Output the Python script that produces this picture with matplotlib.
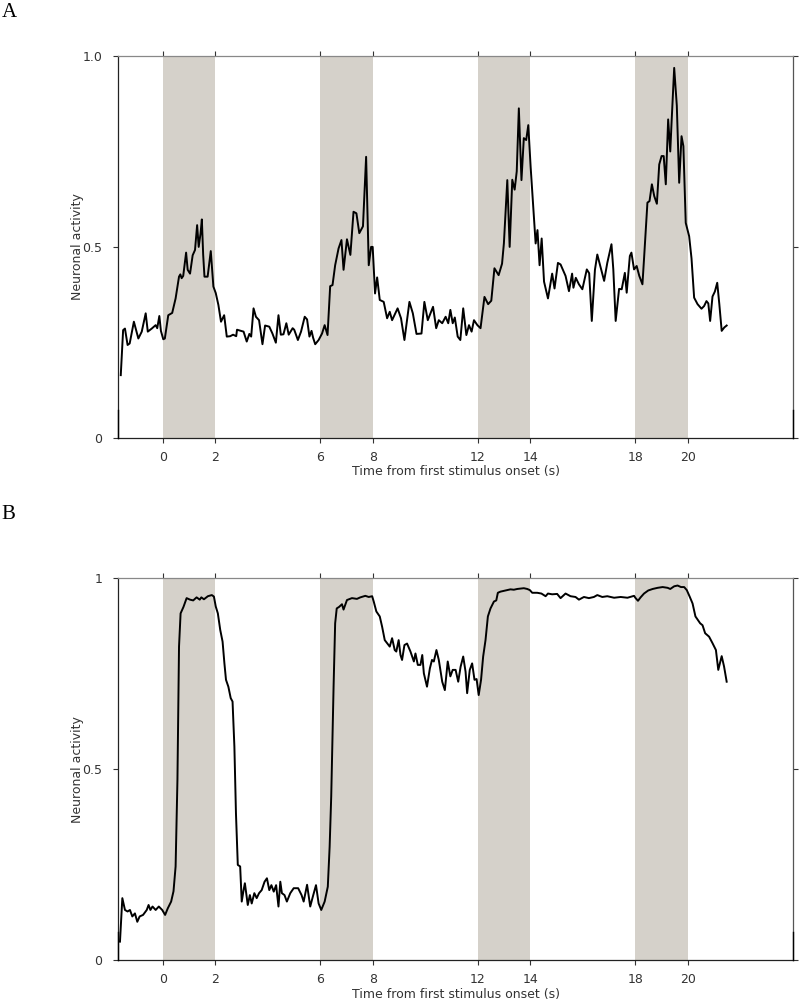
import numpy as np
import matplotlib
matplotlib.use("Agg")
import matplotlib.pyplot as plt

# stimulus windows (s)
stim_on = [0, 6, 12, 18]
stim_dur = 2
xtick_vals = [0, 2, 6, 8, 12, 14, 18, 20]

# panel A trace
t_a = [-1.61, -1.52, -1.45, -1.35, -1.27, -1.11, -0.94, -0.81, -0.66, -0.58,
       -0.43, -0.28, -0.22, -0.14, -0.08, 0.01, 0.07, 0.20, 0.35, 0.48,
       0.61, 0.66, 0.71, 0.77, 0.88, 0.94, 1.03, 1.13, 1.22, 1.30,
       1.36, 1.43, 1.48, 1.53, 1.58, 1.70, 1.82, 1.92, 2.01, 2.11,
       2.21, 2.33, 2.43, 2.56, 2.67, 2.79, 2.82, 3.07, 3.19, 3.29,
       3.36, 3.45, 3.54, 3.66, 3.79, 3.89, 4.05, 4.17, 4.30, 4.40,
       4.49, 4.59, 4.70, 4.79, 4.94, 5.00, 5.14, 5.26, 5.40, 5.49,
       5.58, 5.66, 5.72, 5.80, 5.93, 6.06, 6.16, 6.27, 6.37, 6.46,
       6.56, 6.69, 6.80, 6.88, 7.01, 7.14, 7.26, 7.37, 7.48, 7.62,
       7.74, 7.84, 7.93, 7.99, 8.08, 8.16, 8.26, 8.41, 8.54, 8.64,
       8.73, 8.94, 9.07, 9.20, 9.39, 9.52, 9.66, 9.85, 9.96, 10.09,
       10.29, 10.41, 10.51, 10.64, 10.77, 10.87, 10.95, 11.04, 11.12, 11.23,
       11.33, 11.44, 11.56, 11.66, 11.76, 11.85, 11.98, 12.10, 12.25, 12.39,
       12.51, 12.63, 12.79, 12.92, 12.99, 13.12, 13.21, 13.31, 13.40, 13.48,
       13.56, 13.66, 13.75, 13.84, 13.92, 14.01, 14.11, 14.20, 14.27, 14.35,
       14.43, 14.52, 14.67, 14.83, 14.92, 15.05, 15.15, 15.34, 15.47, 15.59,
       15.64, 15.73, 15.85, 15.98, 16.15, 16.24, 16.34, 16.46, 16.55, 16.70,
       16.81, 16.93, 17.09, 17.16, 17.25, 17.38, 17.48, 17.60, 17.67, 17.79,
       17.85, 17.95, 18.05, 18.15, 18.27, 18.33, 18.46, 18.54, 18.63, 18.72,
       18.82, 18.91, 19.00, 19.08, 19.16, 19.25, 19.33, 19.38, 19.48, 19.58,
       19.67, 19.76, 19.83, 19.92, 20.05, 20.14, 20.24, 20.37, 20.52, 20.62,
       20.71, 20.78, 20.85, 20.94, 21.03, 21.12, 21.20, 21.29, 21.39, 21.48]
y_a = [0.164, 0.282, 0.286, 0.243, 0.247, 0.304, 0.260, 0.278, 0.326, 0.278,
       0.286, 0.295, 0.287, 0.319, 0.280, 0.258, 0.260, 0.321, 0.327, 0.365,
       0.422, 0.428, 0.418, 0.424, 0.485, 0.440, 0.430, 0.478, 0.492, 0.557,
       0.500, 0.535, 0.572, 0.480, 0.422, 0.422, 0.489, 0.396, 0.379, 0.348,
       0.304, 0.321, 0.265, 0.266, 0.270, 0.266, 0.283, 0.278, 0.252, 0.272,
       0.265, 0.339, 0.317, 0.308, 0.245, 0.294, 0.291, 0.273, 0.249, 0.321,
       0.270, 0.271, 0.300, 0.270, 0.287, 0.283, 0.256, 0.278, 0.317, 0.310,
       0.265, 0.280, 0.262, 0.245, 0.256, 0.273, 0.295, 0.269, 0.397, 0.400,
       0.452, 0.496, 0.518, 0.440, 0.520, 0.479, 0.592, 0.588, 0.536, 0.554,
       0.736, 0.452, 0.500, 0.500, 0.378, 0.420, 0.361, 0.356, 0.313, 0.330,
       0.308, 0.339, 0.313, 0.256, 0.356, 0.326, 0.272, 0.273, 0.356, 0.308,
       0.343, 0.287, 0.308, 0.300, 0.317, 0.300, 0.335, 0.300, 0.315, 0.265,
       0.256, 0.339, 0.269, 0.295, 0.278, 0.308, 0.295, 0.287, 0.369, 0.350,
       0.359, 0.444, 0.426, 0.456, 0.509, 0.675, 0.500, 0.676, 0.650, 0.698,
       0.863, 0.675, 0.785, 0.780, 0.819, 0.709, 0.605, 0.509, 0.544, 0.452,
       0.522, 0.409, 0.365, 0.430, 0.391, 0.458, 0.454, 0.424, 0.384, 0.430,
       0.393, 0.419, 0.402, 0.389, 0.441, 0.431, 0.306, 0.440, 0.480, 0.440,
       0.411, 0.458, 0.507, 0.441, 0.306, 0.390, 0.389, 0.432, 0.380, 0.476,
       0.485, 0.441, 0.450, 0.424, 0.402, 0.468, 0.616, 0.620, 0.664, 0.633,
       0.613, 0.716, 0.738, 0.738, 0.664, 0.834, 0.750, 0.826, 0.969, 0.870,
       0.668, 0.790, 0.764, 0.563, 0.528, 0.470, 0.367, 0.350, 0.338, 0.345,
       0.358, 0.352, 0.306, 0.370, 0.383, 0.406, 0.350, 0.280, 0.289, 0.294]

# panel B trace
t_b = [-1.64, -1.55, -1.45, -1.35, -1.26, -1.17, -1.07, -0.98, -0.89, -0.76,
       -0.62, -0.55, -0.48, -0.40, -0.28, -0.16, -0.03, 0.08, 0.18, 0.31,
       0.40, 0.48, 0.55, 0.61, 0.67, 0.78, 0.90, 1.03, 1.15, 1.28,
       1.40, 1.46, 1.56, 1.71, 1.86, 1.94, 2.01, 2.09, 2.18, 2.27,
       2.34, 2.40, 2.49, 2.58, 2.65, 2.72, 2.78, 2.85, 2.94, 3.00,
       3.07, 3.12, 3.23, 3.31, 3.38, 3.48, 3.57, 3.66, 3.76, 3.87,
       3.96, 4.05, 4.13, 4.22, 4.31, 4.40, 4.47, 4.53, 4.63, 4.72,
       4.85, 4.98, 5.15, 5.28, 5.36, 5.49, 5.61, 5.71, 5.83, 5.93,
       6.03, 6.16, 6.28, 6.35, 6.41, 6.50, 6.56, 6.62, 6.71, 6.82,
       6.88, 7.01, 7.20, 7.39, 7.52, 7.71, 7.84, 7.97, 8.03, 8.13,
       8.26, 8.35, 8.45, 8.54, 8.64, 8.73, 8.83, 8.89, 8.98, 9.05,
       9.11, 9.20, 9.30, 9.43, 9.56, 9.62, 9.71, 9.81, 9.88, 9.94,
       10.06, 10.17, 10.25, 10.32, 10.42, 10.51, 10.64, 10.74, 10.85, 10.95,
       11.04, 11.15, 11.25, 11.34, 11.44, 11.53, 11.59, 11.69, 11.78, 11.87,
       11.95, 12.03, 12.12, 12.20, 12.29, 12.38, 12.48, 12.61, 12.70, 12.76,
       12.86, 13.05, 13.24, 13.37, 13.50, 13.63, 13.75, 13.88, 13.98, 14.07,
       14.26, 14.42, 14.58, 14.67, 14.83, 15.02, 15.15, 15.34, 15.53, 15.72,
       15.85, 16.04, 16.23, 16.42, 16.55, 16.74, 16.93, 17.19, 17.44, 17.70,
       17.95, 18.01, 18.10, 18.20, 18.33, 18.49, 18.66, 18.85, 19.04, 19.23,
       19.33, 19.48, 19.61, 19.74, 19.86, 19.96, 20.07, 20.18, 20.29, 20.38,
       20.47, 20.56, 20.66, 20.81, 20.94, 21.07, 21.16, 21.29, 21.38, 21.48]
y_b = [0.048, 0.162, 0.131, 0.127, 0.131, 0.114, 0.122, 0.100, 0.114, 0.118,
       0.131, 0.144, 0.131, 0.140, 0.131, 0.140, 0.131, 0.118, 0.135, 0.153,
       0.180, 0.245, 0.472, 0.821, 0.908, 0.925, 0.948, 0.944, 0.942, 0.950,
       0.944, 0.950, 0.945, 0.953, 0.956, 0.952, 0.926, 0.908, 0.865, 0.834,
       0.777, 0.734, 0.716, 0.686, 0.677, 0.559, 0.384, 0.249, 0.245, 0.153,
       0.183, 0.201, 0.144, 0.170, 0.148, 0.175, 0.162, 0.175, 0.183, 0.205,
       0.214, 0.183, 0.196, 0.179, 0.196, 0.140, 0.205, 0.175, 0.170, 0.153,
       0.175, 0.188, 0.188, 0.170, 0.153, 0.197, 0.140, 0.166, 0.196, 0.148,
       0.131, 0.153, 0.192, 0.297, 0.428, 0.716, 0.882, 0.921, 0.925, 0.932,
       0.918, 0.943, 0.948, 0.946, 0.950, 0.954, 0.951, 0.953, 0.939, 0.913,
       0.900, 0.873, 0.838, 0.830, 0.821, 0.843, 0.812, 0.808, 0.838, 0.799,
       0.786, 0.825, 0.829, 0.808, 0.782, 0.803, 0.773, 0.773, 0.799, 0.751,
       0.716, 0.764, 0.786, 0.782, 0.812, 0.786, 0.729, 0.707, 0.782, 0.743,
       0.760, 0.760, 0.729, 0.768, 0.795, 0.755, 0.699, 0.760, 0.777, 0.734,
       0.736, 0.694, 0.734, 0.795, 0.838, 0.900, 0.921, 0.939, 0.942, 0.962,
       0.965, 0.968, 0.971, 0.970, 0.972, 0.973, 0.974, 0.972, 0.969, 0.962,
       0.962, 0.960, 0.953, 0.960, 0.958, 0.959, 0.948, 0.960, 0.953, 0.951,
       0.944, 0.951, 0.948, 0.951, 0.956, 0.951, 0.953, 0.949, 0.951, 0.949,
       0.954, 0.948, 0.941, 0.950, 0.960, 0.968, 0.972, 0.975, 0.977, 0.975,
       0.972, 0.979, 0.981, 0.977, 0.977, 0.969, 0.952, 0.934, 0.900, 0.891,
       0.882, 0.877, 0.856, 0.847, 0.830, 0.812, 0.760, 0.796, 0.769, 0.729]

shade = '#d5d1ca'

fig = plt.figure(figsize=(8, 10.01), dpi=100)
ax_a = fig.add_axes([0.148, 0.5627, 0.843, 0.3813])
ax_b = fig.add_axes([0.148, 0.041, 0.843, 0.3813])


def draw_panel(ax, t, y, ylabels):
    for s in stim_on:
        ax.axvspan(s, s + stim_dur, color=shade, lw=0, zorder=0)
    ax.plot(t, y, color='black', lw=1.4, zorder=3)
    ax.set_xlim(-1.7, 24.0)
    ax.set_ylim(0, 1)
    ax.set_xticks(xtick_vals)
    ax.set_xticklabels([str(v) for v in xtick_vals])
    ax.set_yticks([0, 0.5, 1])
    ax.set_yticklabels(ylabels)
    ax.tick_params(direction='out', length=3.6, width=0.8, colors='#333333',
                   labelsize=9, top=True, right=True)
    ax.tick_params(axis='x', pad=6)
    ax.tick_params(axis='y', pad=8)
    ax.spines['left'].set_color('#222222')
    ax.spines['bottom'].set_color('#222222')
    ax.spines['top'].set_color('#888888')
    ax.spines['right'].set_color('#555555')
    for sp in ax.spines.values():
        sp.set_linewidth(0.9)
    # darker bits at the foot of the side spines
    for xa in (0, 1):
        ax.plot([xa, xa], [0, 0.073], transform=ax.transAxes, color='black',
                lw=1.0, clip_on=False, zorder=4)
    ax.set_xlabel('Time from first stimulus onset (s)', fontsize=9,
                  color='#333333', labelpad=1)
    ax.set_ylabel('Neuronal activity', fontsize=9, color='#333333',
                  labelpad=-1)


draw_panel(ax_a, t_a, y_a, ['0', '0.5', '1.0'])
draw_panel(ax_b, t_b, y_b, ['0', '0.5', '1'])

fig.text(0.002, 0.997, 'A', fontsize=15, family='Liberation Serif',
         va='top', ha='left')
fig.text(0.002, 0.4955, 'B', fontsize=15, family='Liberation Serif',
         va='top', ha='left')

fig.savefig('out.png', dpi=100)
